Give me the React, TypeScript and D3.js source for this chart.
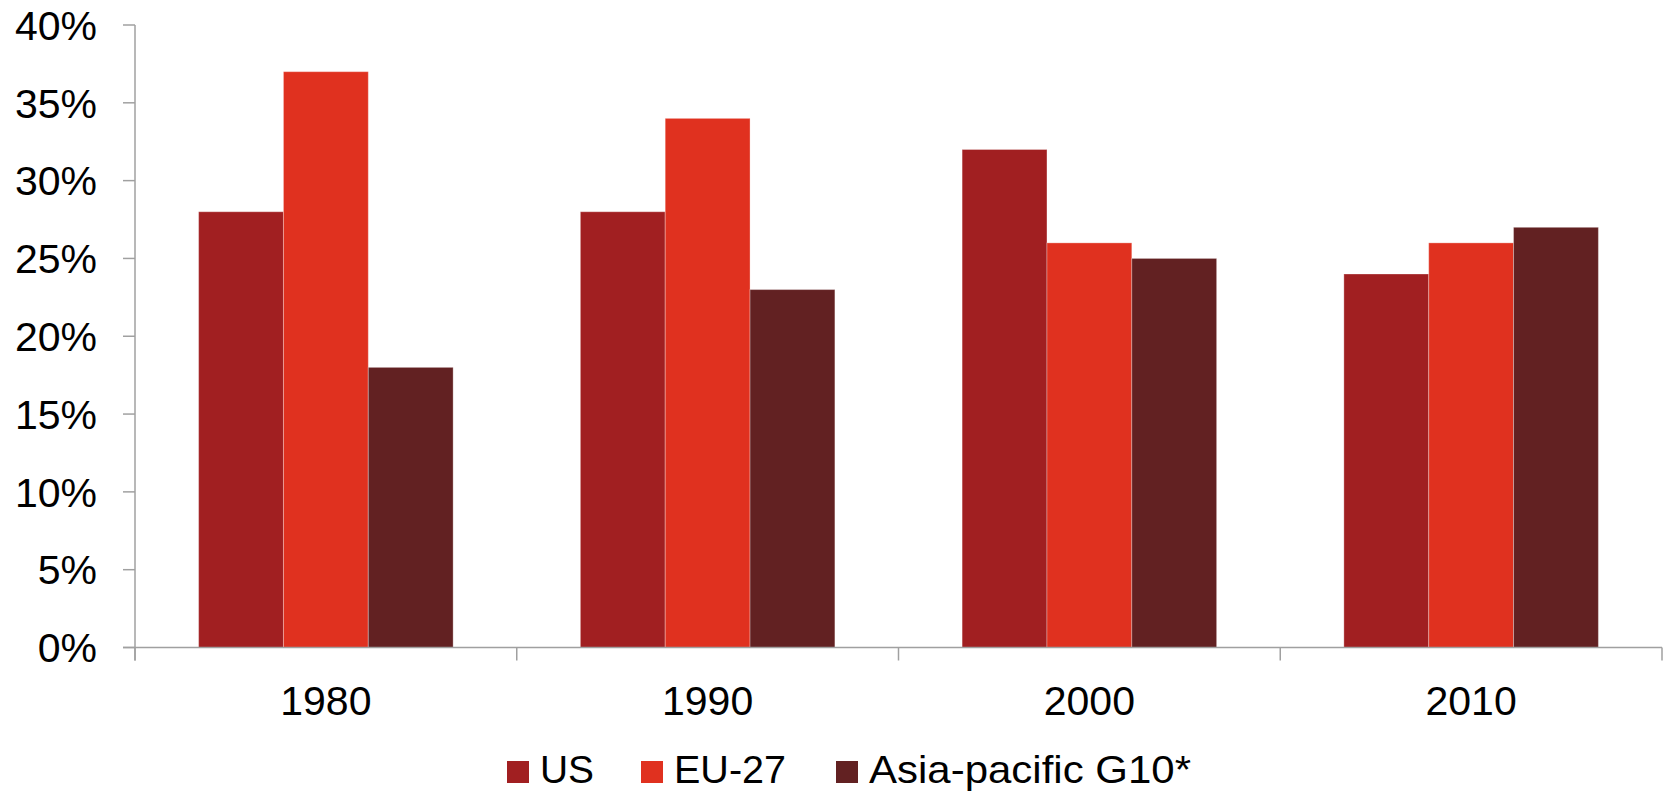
import React from "react";
import * as d3 from "d3";

const categories = ["1980", "1990", "2000", "2010"];
const seriesNames = ["US", "EU-27", "Asia-pacific G10*"];
const usValues = [28, 28, 32, 24];
const euValues = [37, 34, 26, 26];
const asiaValues = [18, 23, 25, 27];
const yTicks = [0, 5, 10, 15, 20, 25, 30, 35, 40];
const colors = ["#A11F21", "#E0311F", "#622122"];

const W = 1667;
const H = 794;
const left = 135;
const right = 1662;
const top = 25;
const bottom = 647.5;
const FONT = "'Liberation Sans', Arial, sans-serif";
const AXIS = "#a0a0a0";
const legendX = [507, 641, 836];
const legendTextW = [54, 112, 322];

export default function App() {
  const series = [usValues, euValues, asiaValues];
  const x = d3.scaleBand<string>().domain(categories).range([left, right]).paddingInner(0).paddingOuter(0);
  const inner = d3
    .scaleBand<number>()
    .domain([0, 1, 2])
    .range([0, x.bandwidth()])
    .paddingInner(0)
    .paddingOuter(0.75);
  const y = d3.scaleLinear().domain([0, 40]).range([bottom, top]);
  const boundaries = d3.range(categories.length + 1).map((i) => left + i * x.step());

  return (
    <svg
      width={W}
      height={H}
      style={{ position: "absolute", left: 0, top: 0, background: "#fff" }}
      fontFamily={FONT}
    >
      {series.map((vals, si) =>
        vals.map((v, ci) => (
          <rect
            key={`${si}-${ci}`}
            x={(x(categories[ci]) as number) + (inner(si) as number)}
            y={y(v)}
            width={inner.bandwidth()}
            height={bottom - y(v)}
            fill={colors[si]}
            stroke="rgba(255,255,255,0.3)"
            strokeWidth={1}
          />
        ))
      )}
      {/* y axis */}
      <line x1={left} x2={left} y1={top} y2={bottom + 13} stroke={AXIS} strokeWidth={1.5} />
      {yTicks.map((t) => (
        <g key={t}>
          <line x1={left - 12} x2={left} y1={y(t)} y2={y(t)} stroke={AXIS} strokeWidth={1.5} />
          <text
            x={97}
            y={y(t)}
            dy="0.36em"
            textAnchor="end"
            fontSize={41}
            fill="#000"
          >{`${t}%`}</text>
        </g>
      ))}
      {/* x axis */}
      <line x1={left - 12} x2={right} y1={bottom} y2={bottom} stroke={AXIS} strokeWidth={1.5} />
      {boundaries.map((bx, i) => (
        <line key={i} x1={bx} x2={bx} y1={bottom} y2={bottom + 13} stroke={AXIS} strokeWidth={1.5} />
      ))}
      {categories.map((c) => (
        <text
          key={c}
          x={(x(c) as number) + x.bandwidth() / 2}
          y={715}
          textAnchor="middle"
          fontSize={41}
          fill="#000"
        >
          {c}
        </text>
      ))}
      {/* legend */}
      {seriesNames.map((n, i) => (
        <g key={n}>
          <rect x={legendX[i]} y={761} width={22} height={22} fill={colors[i]} />
          <text
            x={legendX[i] + 33}
            y={783}
            fontSize={39.5}
            fill="#000"
            textLength={legendTextW[i]}
            lengthAdjust="spacingAndGlyphs"
          >
            {n}
          </text>
        </g>
      ))}
    </svg>
  );
}
